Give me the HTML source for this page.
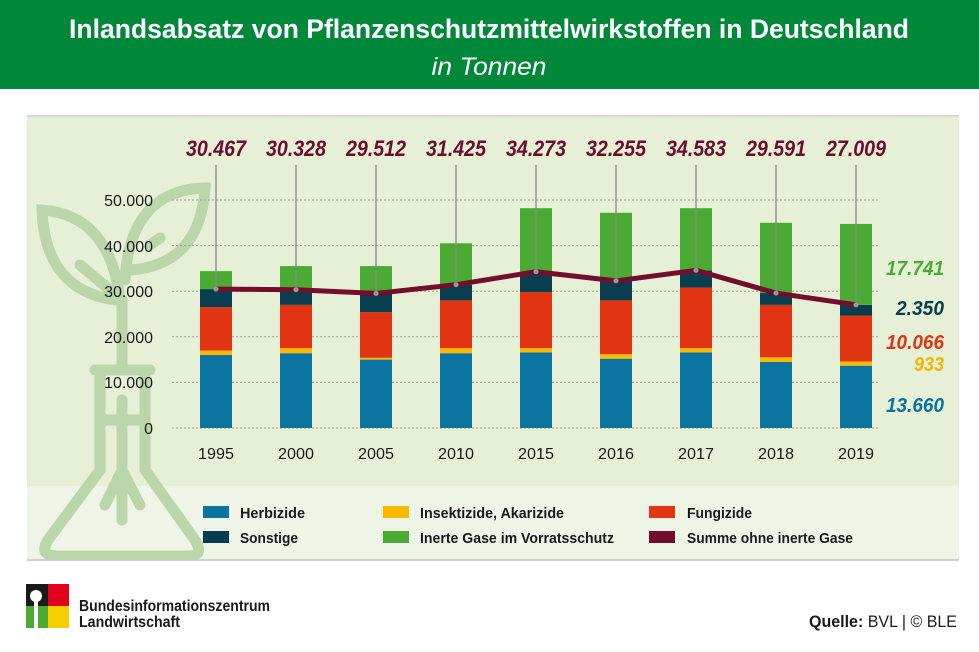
<!DOCTYPE html>
<html><head><meta charset="utf-8"><style>body{margin:0;background:#fff;overflow:hidden}svg{display:block}</style></head><body>
<svg width="979" height="652" viewBox="0 0 979 652" xmlns="http://www.w3.org/2000/svg" font-family="'Liberation Sans',sans-serif">
<rect x="0" y="0" width="979" height="89" fill="#00883a"/>
<text x="489" y="38" text-anchor="middle" fill="#fff" font-size="27" font-weight="bold" textLength="840" lengthAdjust="spacingAndGlyphs">Inlandsabsatz von Pflanzenschutzmittelwirkstoffen in Deutschland</text>
<text x="489" y="75" text-anchor="middle" fill="#fff" font-size="25" font-style="italic" textLength="115" lengthAdjust="spacingAndGlyphs">in Tonnen</text>
<rect x="27" y="116" width="932" height="370" fill="#e6f0d6"/>
<rect x="27" y="486" width="932" height="74" fill="#eef5e6"/>
<rect x="27" y="115" width="932" height="2" fill="#d6dccd"/>
<rect x="27" y="559" width="932" height="2" fill="#cfd3cb"/>
<svg x="27" y="116" width="932" height="444" overflow="hidden">
<g transform="translate(-27,-116)" fill="none" stroke="#bcd6ac" stroke-width="11" stroke-linecap="round">
<path d="M122 300 L122 370"/>
<path d="M120 300 Q110 215 42 210 Q45 290 115 300"/>
<path d="M125 280 Q130 190 205 188 Q200 265 130 270"/>
<path d="M80 265 L110 290"/><path d="M150 245 L160 238"/>
<path d="M95 370 L150 370"/>
<path d="M100 372 L100 470 L48 540 Q38 556 58 556 L188 556 Q205 556 195 540 L145 470 L145 372"/>
<path d="M100 420 L145 420"/><path d="M122 400 L122 520"/><path d="M122 470 L105 505"/><path d="M122 470 L140 505"/>
</g>
</svg>
<g stroke="#9aa090" stroke-width="1" stroke-dasharray="2,2">
<line x1="172" x2="880" y1="200" y2="200"/><line x1="172" x2="880" y1="245.6" y2="245.6"/><line x1="172" x2="880" y1="291.2" y2="291.2"/><line x1="172" x2="880" y1="336.8" y2="336.8"/><line x1="172" x2="880" y1="382.4" y2="382.4"/><line x1="172" x2="880" y1="428" y2="428"/>
</g>
<g font-size="16" fill="#1a1a1a" text-anchor="end">
<text x="153" y="206">50.000</text><text x="153" y="252">40.000</text><text x="153" y="297">30.000</text><text x="153" y="343">20.000</text><text x="153" y="388">10.000</text><text x="153" y="434">0</text>
</g>
<g id="bars"></g>
<g font-size="16" fill="#1a1a1a" text-anchor="middle" id="years"></g>
<g id="leaders"></g>
<g id="line"></g>
<g font-size="22" font-weight="bold" font-style="italic" fill="#6d0d2b" text-anchor="middle" id="sums"></g>
<g font-size="20" font-weight="bold" font-style="italic" text-anchor="end">
<text x="944" y="275" fill="#4aaa32" textLength="58" lengthAdjust="spacingAndGlyphs">17.741</text>
<text x="944" y="315" fill="#073d4f" textLength="48" lengthAdjust="spacingAndGlyphs">2.350</text>
<text x="944" y="349" fill="#e03412" textLength="58" lengthAdjust="spacingAndGlyphs">10.066</text>
<text x="944" y="371" fill="#f2b600" textLength="30" lengthAdjust="spacingAndGlyphs">933</text>
<text x="944" y="412" fill="#0a73a0" textLength="58" lengthAdjust="spacingAndGlyphs">13.660</text>
</g>
<g font-size="15" font-weight="bold" fill="#1a1a1a" lengthAdjust="spacingAndGlyphs">
<rect x="203" y="506" width="26" height="12" fill="#0a73a0"/><text x="240" y="518" textLength="65" lengthAdjust="spacingAndGlyphs">Herbizide</text>
<rect x="203" y="531" width="26" height="12" fill="#073d4f"/><text x="240" y="543" textLength="58" lengthAdjust="spacingAndGlyphs">Sonstige</text>
<rect x="383" y="506" width="26" height="12" fill="#fbb900"/><text x="420" y="518" textLength="144" lengthAdjust="spacingAndGlyphs">Insektizide, Akarizide</text>
<rect x="383" y="531" width="26" height="12" fill="#4aaa32"/><text x="420" y="543" textLength="194" lengthAdjust="spacingAndGlyphs">Inerte Gase im Vorratsschutz</text>
<rect x="649" y="506" width="26" height="12" fill="#e03412"/><text x="687" y="518" textLength="65" lengthAdjust="spacingAndGlyphs">Fungizide</text>
<rect x="649" y="531" width="26" height="12" fill="#740c2b"/><text x="687" y="543" textLength="166" lengthAdjust="spacingAndGlyphs">Summe ohne inerte Gase</text>
</g>
<rect x="26" y="584" width="22" height="22" fill="#1a1a1a"/><rect x="48" y="584" width="21" height="22" fill="#e2001a"/>
<rect x="26" y="606" width="22" height="22" fill="#4aaa32"/><rect x="48" y="606" width="21" height="22" fill="#f5d000"/>
<circle cx="36" cy="596" r="6" fill="#fff"/><rect x="34" y="598" width="4" height="30" fill="#fff"/>
<g font-size="16" font-weight="bold" fill="#1a1a1a"><text x="79" y="611" textLength="191" lengthAdjust="spacingAndGlyphs">Bundesinformationszentrum</text><text x="79" y="627" textLength="101" lengthAdjust="spacingAndGlyphs">Landwirtschaft</text></g>
<text x="957" y="627" text-anchor="end" font-size="17" fill="#1a1a1a" textLength="148" lengthAdjust="spacingAndGlyphs"><tspan font-weight="bold">Quelle:</tspan> BVL | © BLE</text>
<script>
var ys=[1995,2000,2005,2010,2015,2016,2017,2018,2019];
var d=[[16,17,26.5,30.467,34.4],[16.4,17.5,27,30.328,35.5],[15,15.4,25.4,29.512,35.5],[16.4,17.5,28,31.425,40.5],[16.6,17.5,29.8,34.273,48.2],[15.2,16.2,28,32.255,47.2],[16.6,17.5,30.8,34.583,48.2],[14.5,15.5,27,29.591,45],[13.66,14.59,24.66,27.009,44.75]];
var lbl=["30.467","30.328","29.512","31.425","34.273","32.255","34.583","29.591","27.009"];
var cols=["#0a73a0","#fbb900","#e03412","#073d4f","#4aaa32"];
function Y(v){return 428-v*4.56}
var ns="http://www.w3.org/2000/svg";
function el(p,t,a,txt){var e=document.createElementNS(ns,t);for(var k in a)e.setAttribute(k,a[k]);if(txt)e.textContent=txt;document.getElementById(p).appendChild(e);return e}
var pts=[];
ys.forEach(function(y,i){var cx=216+80*i;var prev=0;
d[i].forEach(function(v,j){el("bars","rect",{x:cx-16,y:Y(v),width:32,height:Y(prev)-Y(v),fill:cols[j]});prev=v;});
el("years","text",{x:cx,y:459,textLength:36,lengthAdjust:"spacingAndGlyphs"},String(y));
el("sums","text",{x:cx,y:156,textLength:60,lengthAdjust:"spacingAndGlyphs"},lbl[i]);
el("leaders","line",{x1:cx,x2:cx,y1:165,y2:Y(d[i][3]),stroke:"#888",'stroke-width':1.3});
pts.push(cx+","+Y(d[i][3]));});
el("line","polyline",{points:pts.join(" "),fill:"none",stroke:"#740c2b",'stroke-width':5,'stroke-linejoin':'round'});
pts.forEach(function(p){var a=p.split(",");el("line","circle",{cx:a[0],cy:a[1],r:2.5,fill:"#999"})});
</script>
</svg>
</body></html>
